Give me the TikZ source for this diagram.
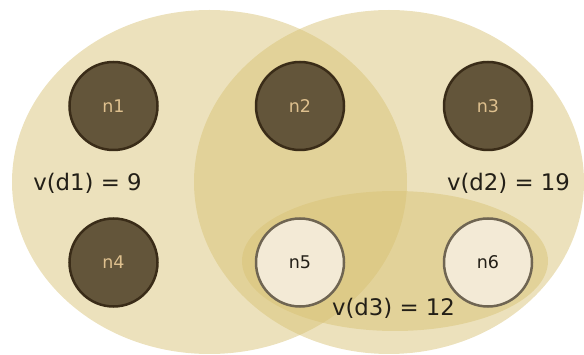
\documentclass[tikz,border=0pt]{standalone}
\usepackage{fontspec}
\setmainfont{DejaVu Sans}
\definecolor{setfill}{RGB}{215,193,115}
\definecolor{darkfill}{RGB}{99,85,58}
\definecolor{darkedge}{RGB}{58,44,24}
\definecolor{darktext}{RGB}{222,192,142}
\definecolor{lightfill}{RGB}{243,234,214}
\definecolor{lightedge}{RGB}{111,101,82}
\definecolor{labeltext}{RGB}{35,31,23}
\begin{document}
\begin{tikzpicture}[x=1pt,y=-1pt,
  setshape/.style={fill=setfill,fill opacity=0.48,draw=none},
  darknode/.style={circle,minimum size=88pt,inner sep=0pt,fill=darkfill,draw=darkedge,line width=2.5pt,text=darktext,font=\fontsize{17.5}{19}\selectfont},
  lightnode/.style={circle,minimum size=88pt,inner sep=0pt,fill=lightfill,draw=lightedge,line width=2.5pt,text=labeltext,font=\fontsize{17.5}{19}\selectfont},
  setlabel/.style={text=labeltext,font=\fontsize{22.8}{24}\selectfont,inner sep=0pt}]
\useasboundingbox (0,0) rectangle (584,355);
\fill[setshape] (209.5,182) ellipse [x radius=197.5, y radius=172];
\fill[setshape] (389,182) ellipse [x radius=195, y radius=172];
\fill[setshape] (395,261) ellipse [x radius=153, y radius=70];
\node[darknode] (n1) at (113.5,106) {n1};
\node[darknode] (n2) at (300,106) {n2};
\node[darknode] (n3) at (488,106) {n3};
\node[darknode] (n4) at (113.5,262.5) {n4};
\node[lightnode] (n5) at (300,262.5) {n5};
\node[lightnode] (n6) at (488,262.5) {n6};
\node[setlabel] (l1) at (87.5,183) {v(d1) = 9};
\node[setlabel] (l2) at (508.5,183) {v(d2) = 19};
\node[setlabel] (l3) at (393.5,308) {v(d3) = 12};
\end{tikzpicture}
\end{document}
